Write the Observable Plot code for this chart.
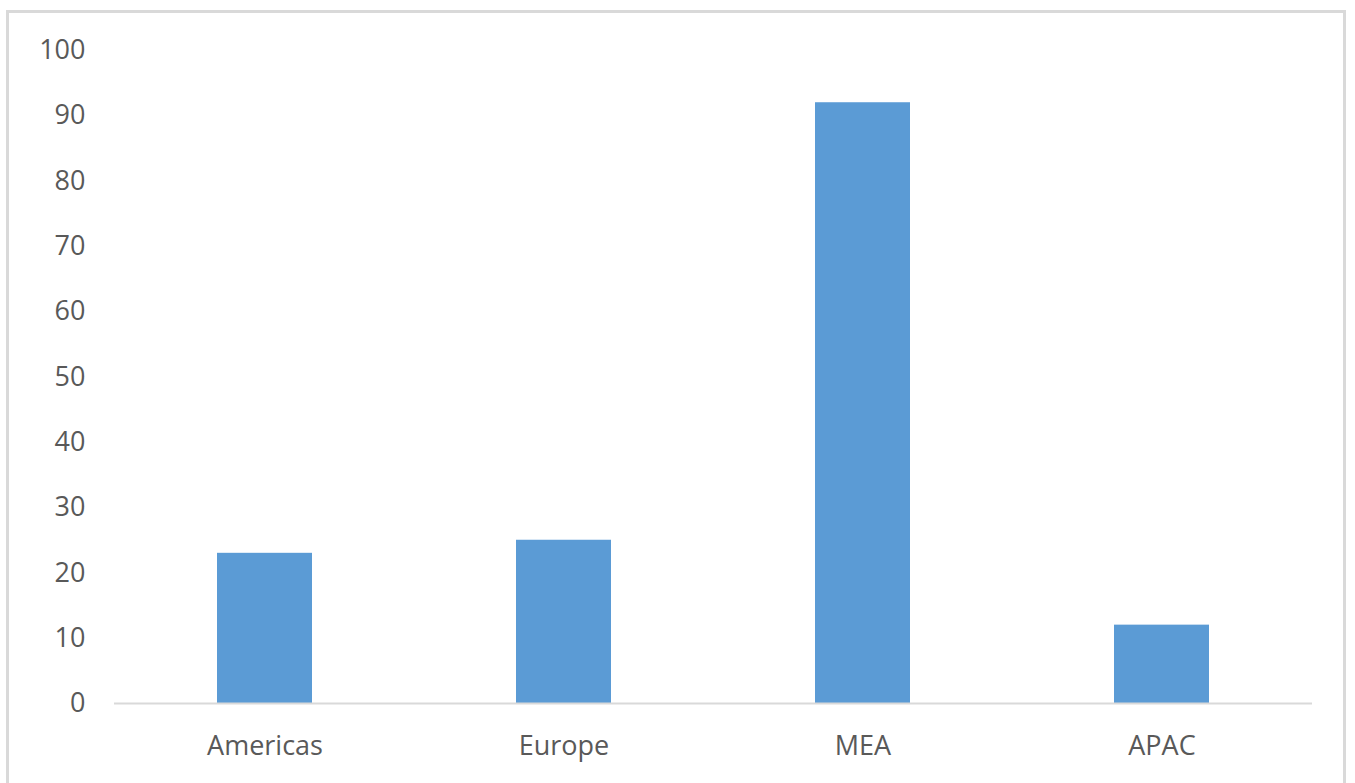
<!DOCTYPE html>
<html>
<head>
<meta charset="utf-8">
<script src="https://cdn.jsdelivr.net/npm/d3@7"></script>
<script src="https://cdn.jsdelivr.net/npm/@observablehq/plot@0.6"></script>
<style>
  html, body { margin: 0; padding: 0; background: #fff; overflow: hidden; }
  #frame { position: absolute; left: 6px; top: 10px; width: 1340px; height: 790px; border: 3px solid #d9d9d9; box-sizing: border-box; }
  #chart { position: absolute; left: 0; top: 0; }
</style>
</head>
<body>
<div id="frame"></div>
<div id="chart"></div>
<script>
const regions = ["Americas", "Europe", "MEA", "APAC"];
const values = [23, 25, 92, 12];
const yTicks = [0, 10, 20, 30, 40, 50, 60, 70, 80, 90, 100];

const data = regions.map((r, i) => ({region: r, value: values[i]}));

const chart = Plot.plot({
  width: 1355,
  height: 783,
  marginLeft: 114,
  marginRight: 43,
  marginTop: 50,
  marginBottom: 80,
  style: {fontFamily: "'Open Sans', 'Liberation Sans', sans-serif", fontSize: "27px", color: "#595959", background: "transparent"},
  x: {domain: regions, paddingInner: 0.683, paddingOuter: 0.3415, label: null},
  y: {domain: [0, 100], ticks: yTicks, label: null},
  marks: [
    Plot.barY(data, {x: "region", y: "value", fill: "#5b9bd5"}),
    Plot.ruleY([0], {stroke: "#d9d9d9", strokeWidth: 2}),
    Plot.axisY({ticks: yTicks, tickSize: 0, tickPadding: 29, label: null, fill: "#595959"}),
    Plot.axisX({tickSize: 0, tickPadding: 32, label: null, fill: "#595959"})
  ]
});
document.getElementById("chart").appendChild(chart);
</script>
</body>
</html>
